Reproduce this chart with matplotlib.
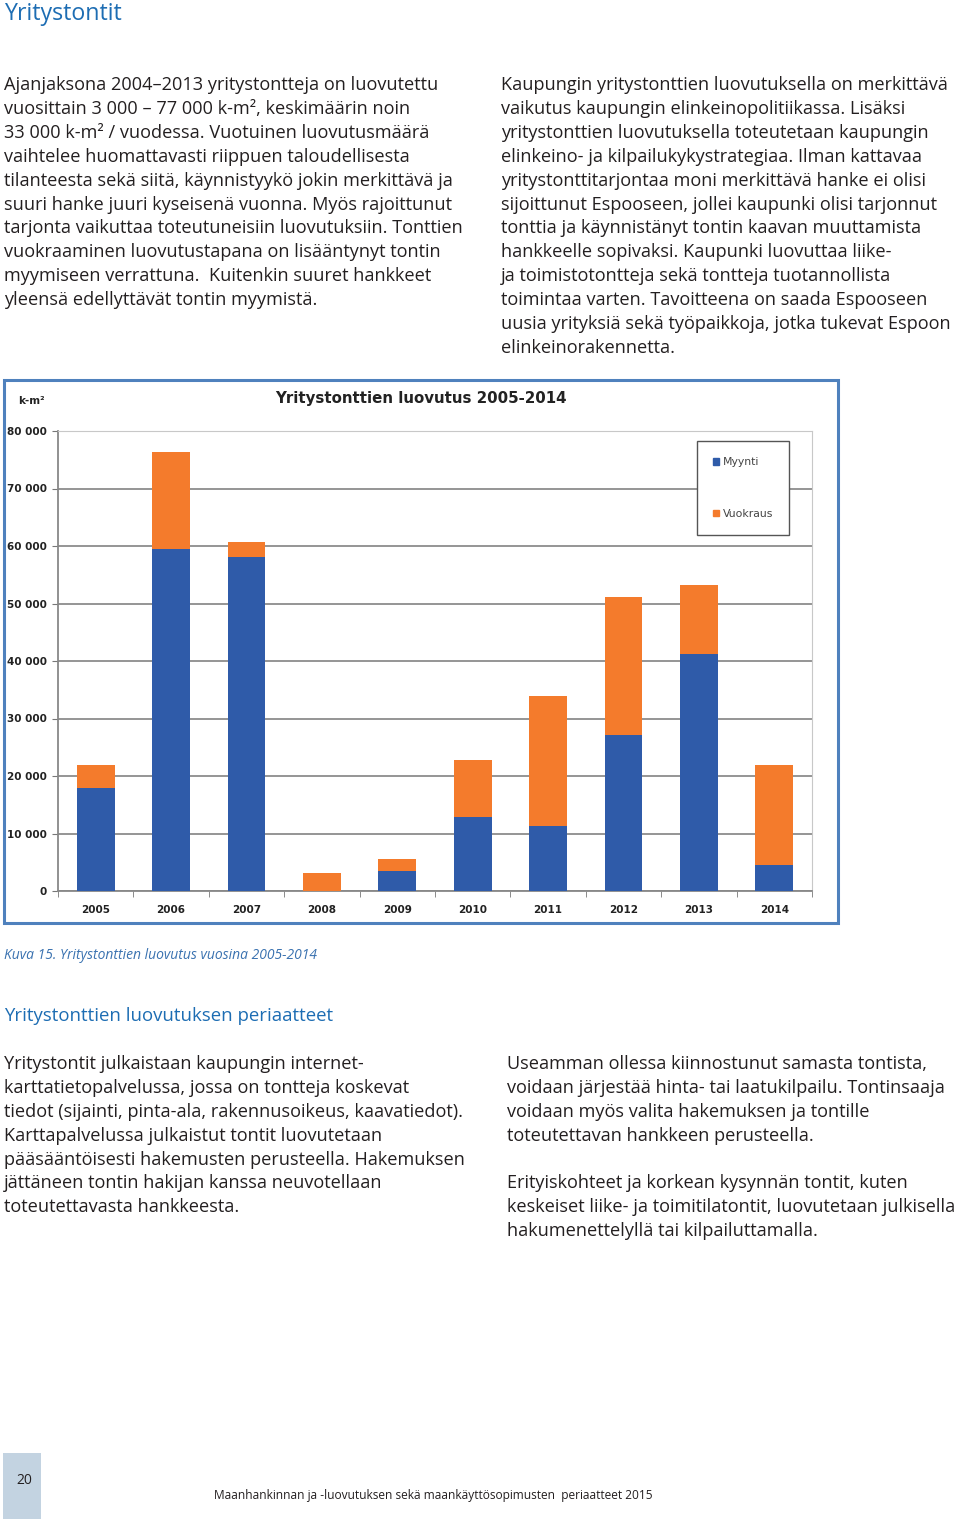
import numpy as np
import matplotlib
matplotlib.use("Agg")
import matplotlib.pyplot as plt
from matplotlib.patches import Rectangle, Patch

W, H = 960, 1519

# chart data (k-m2 per year)
YEARS = ["2005", "2006", "2007", "2008", "2009", "2010", "2011", "2012", "2013", "2014"]
MYYNTI = [18000, 59500, 58100, 0, 3500, 12800, 11300, 27050, 41250, 4450]
VUOKRAUS = [4000, 16900, 2650, 3100, 2000, 10050, 22700, 24050, 12000, 17450]
Y_TICKS = [0, 10000, 20000, 30000, 40000, 50000, 60000, 70000, 80000]

BLUE = "#2f5ba9"
ORANGE = "#f47b2c"
HEAD_BLUE = "#1d6db3"
TEXT = "#231f20"
BODY_FONT = ["Open Sans", "DejaVu Sans"]

LEFT_TOP = [
    "Ajanjaksona 2004–2013 yritystontteja on luovutettu",
    "vuosittain 3 000 – 77 000 k-m², keskimäärin noin",
    "33 000 k-m² / vuodessa. Vuotuinen luovutusmäärä",
    "vaihtelee huomattavasti riippuen taloudellisesta",
    "tilanteesta sekä siitä, käynnistyykö jokin merkittävä ja",
    "suuri hanke juuri kyseisenä vuonna. Myös rajoittunut",
    "tarjonta vaikuttaa toteutuneisiin luovutuksiin. Tonttien",
    "vuokraaminen luovutustapana on lisääntynyt tontin",
    "myymiseen verrattuna.  Kuitenkin suuret hankkeet",
    "yleensä edellyttävät tontin myymistä.",
]
RIGHT_TOP = [
    "Kaupungin yritystonttien luovutuksella on merkittävä",
    "vaikutus kaupungin elinkeinopolitiikassa. Lisäksi",
    "yritystonttien luovutuksella toteutetaan kaupungin",
    "elinkeino- ja kilpailukykystrategiaa. Ilman kattavaa",
    "yritystonttitarjontaa moni merkittävä hanke ei olisi",
    "sijoittunut Espooseen, jollei kaupunki olisi tarjonnut",
    "tonttia ja käynnistänyt tontin kaavan muuttamista",
    "hankkeelle sopivaksi. Kaupunki luovuttaa liike-",
    "ja toimistotontteja sekä tontteja tuotannollista",
    "toimintaa varten. Tavoitteena on saada Espooseen",
    "uusia yrityksiä sekä työpaikkoja, jotka tukevat Espoon",
    "elinkeinorakennetta.",
]
LEFT_BOTTOM = [
    "Yritystontit julkaistaan kaupungin internet-",
    "karttatietopalvelussa, jossa on tontteja koskevat",
    "tiedot (sijainti, pinta-ala, rakennusoikeus, kaavatiedot).",
    "Karttapalvelussa julkaistut tontit luovutetaan",
    "pääsääntöisesti hakemusten perusteella. Hakemuksen",
    "jättäneen tontin hakijan kanssa neuvotellaan",
    "toteutettavasta hankkeesta.",
]
RIGHT_BOTTOM = [
    "Useamman ollessa kiinnostunut samasta tontista,",
    "voidaan järjestää hinta- tai laatukilpailu. Tontinsaaja",
    "voidaan myös valita hakemuksen ja tontille",
    "toteutettavan hankkeen perusteella.",
    "",
    "Erityiskohteet ja korkean kysynnän tontit, kuten",
    "keskeiset liike- ja toimitilatontit, luovutetaan julkisella",
    "hakumenettelyllä tai kilpailuttamalla.",
]


def fx(x):
    return x / W


def fy(y):
    return 1 - y / H


def put_lines(fig, lines, x, y0, step=23.9, size=13.1):
    for i, line in enumerate(lines):
        fig.text(fx(x), fy(y0 + i * step), line, ha="left", va="center",
                 fontsize=size, color=TEXT, family=BODY_FONT)


fig = plt.figure(figsize=(W / 100, H / 100), dpi=100)

# page texts
fig.text(fx(4), fy(14), "Yritystontit", ha="left", va="center",
         fontsize=16.7, color=HEAD_BLUE, family=BODY_FONT)
put_lines(fig, LEFT_TOP, 4, 85)
put_lines(fig, RIGHT_TOP, 501, 85)

# chart frame
fig.patches.append(Rectangle((fx(4), fy(923)), fx(834), 543 / H, transform=fig.transFigure,
                             facecolor="none", edgecolor="#4f81bd", linewidth=2.2, zorder=5))

ax = fig.add_axes([fx(58), fy(891), fx(812 - 58), 460 / H])
x = np.arange(len(YEARS))
ax.bar(x, MYYNTI, width=0.5, color=BLUE, label="Myynti", zorder=3)
ax.bar(x, VUOKRAUS, width=0.5, bottom=MYYNTI, color=ORANGE, label="Vuokraus", zorder=3)

ax.set_xlim(-0.5, len(YEARS) - 0.5)
ax.set_ylim(0, 80000)
ax.set_yticks(Y_TICKS)
ax.set_yticklabels([f"{v:,}".replace(",", " ") for v in Y_TICKS])
ax.set_xticks(x)
ax.set_xticklabels(YEARS)
ax.set_xticks(np.arange(len(YEARS) + 1) - 0.5, minor=True)
ax.tick_params(axis="x", which="major", length=0, pad=10)
ax.tick_params(axis="x", which="minor", length=4, color="#777777", direction="out")
ax.tick_params(axis="y", length=4, color="#777777", pad=4)
for lab in ax.get_xticklabels() + ax.get_yticklabels():
    lab.set_fontsize(7.5)
    lab.set_fontweight("bold")
    lab.set_color("#222222")
    lab.set_family(["DejaVu Sans"])
ax.grid(axis="y", color="#8c8c8c", linewidth=1.3, zorder=0)
ax.set_axisbelow(True)
ax.spines["left"].set_color("#888888")
ax.spines["bottom"].set_color("#888888")
ax.spines["left"].set_linewidth(1.3)
ax.spines["bottom"].set_linewidth(1.3)
ax.spines["top"].set_color("#c8c8c8")
ax.spines["right"].set_color("#c8c8c8")

leg = ax.legend(handles=[Patch(color=BLUE, label="Myynti"), Patch(color=ORANGE, label="Vuokraus")],
                loc="upper left", bbox_to_anchor=(0.8475, 0.978), borderaxespad=0, fontsize=7.8,
                handlelength=0.5, handleheight=0.5, handletextpad=0.35, labelspacing=3.8,
                borderpad=1.5, fancybox=False, framealpha=1, edgecolor="#555555")
leg.get_frame().set_linewidth(1.0)
for t in leg.get_texts():
    t.set_color("#444444")

fig.text(fx(421), fy(398), "Yritystonttien luovutus 2005-2014", ha="center", va="center",
         fontsize=10.8, fontweight="bold", color="#222222")
fig.text(fx(31), fy(401), "k-m²", ha="center", va="center",
         fontsize=7.5, fontweight="bold", color="#222222")

# caption and second section
fig.text(fx(4), fy(955), "Kuva 15. Yritystonttien luovutus vuosina 2005-2014", ha="left",
         va="center", fontsize=10, style="italic", color="#3a72b0", family=BODY_FONT)
fig.text(fx(4), fy(1016), "Yritystonttien luovutuksen periaatteet", ha="left", va="center",
         fontsize=13.4, color=HEAD_BLUE, family=BODY_FONT)
put_lines(fig, LEFT_BOTTOM, 4, 1064)
put_lines(fig, RIGHT_BOTTOM, 507, 1064)

# footer
fig.patches.append(Rectangle((fx(3), 0), fx(38), 66 / H, transform=fig.transFigure,
                             facecolor="#c3d3e1", edgecolor="none"))
fig.text(fx(24), fy(1481), "20", ha="center", va="center", fontsize=10,
         color=TEXT, family=BODY_FONT)
fig.text(fx(433), fy(1496), "Maanhankinnan ja -luovutuksen sekä maankäyttösopimusten  periaatteet 2015",
         ha="center", va="center", fontsize=8.6, color=TEXT, family=BODY_FONT)

fig.savefig("out.png", dpi=100)
